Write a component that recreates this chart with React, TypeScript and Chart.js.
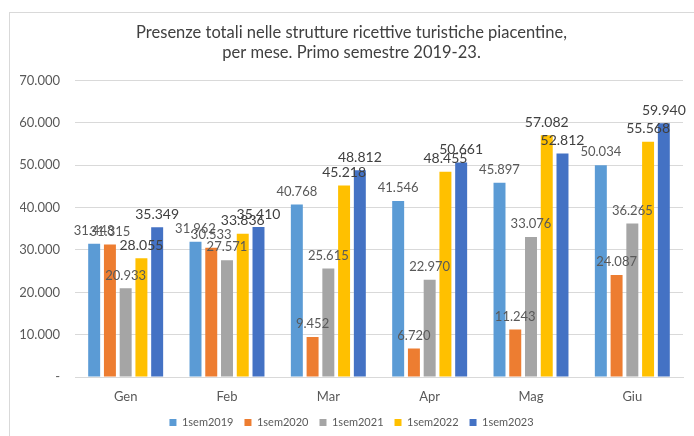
import React, { useEffect, useRef } from "react";
import { Chart, registerables } from "chart.js";

Chart.register(...registerables);

const categories = ["Gen", "Feb", "Mar", "Apr", "Mag", "Giu"];
const seriesNames = ["1sem2019", "1sem2020", "1sem2021", "1sem2022", "1sem2023"];
const s2019 = [31448, 31962, 40768, 41546, 45897, 50034];
const s2020 = [31315, 30533, 9452, 6720, 11243, 24087];
const s2021 = [20933, 27571, 25615, 22970, 33076, 36265];
const s2022 = [28055, 33836, 45218, 48455, 57082, 55568];
const s2023 = [35349, 35410, 48812, 50661, 52812, 59940];
const seriesColors = ["#5B9BD5", "#ED7D31", "#A5A5A5", "#FFC000", "#4472C4"];
const titleLines = [
  "Presenze totali nelle strutture ricettive turistiche piacentine,",
  "per mese. Primo semestre 2019-23.",
];

const FONT = "Lato, 'Open Sans', sans-serif";

function fmt(v: number): string {
  if (v === 0) return "-";
  return String(Math.round(v)).replace(/\B(?=(\d{3})+(?!\d))/g, ".");
}

const labelPlugin = {
  id: "barLabels",
  afterDatasetsDraw(chart: any) {
    const ctx = chart.ctx;
    ctx.save();
    ctx.textAlign = "center";
    ctx.textBaseline = "middle";
    chart.data.datasets.forEach((ds: any, di: number) => {
      const meta = chart.getDatasetMeta(di);
      const big = di >= 3;
      ctx.font = `${big ? 14 : 13}px ${FONT}`;
      ctx.fillStyle = big ? "#404040" : "#595959";
      meta.data.forEach((el: any, i: number) => {
        ctx.fillText(fmt(ds.data[i]), el.x, el.y - 13);
      });
    });
    ctx.restore();
  },
};

export default function App() {
  const ref = useRef<HTMLCanvasElement | null>(null);
  useEffect(() => {
    if (!ref.current) return;
    const all = [s2019, s2020, s2021, s2022, s2023];
    const chart = new Chart(ref.current, {
      type: "bar",
      data: {
        labels: categories,
        datasets: all.map((d, i) => ({
          label: seriesNames[i],
          data: d,
          backgroundColor: seriesColors[i],
          borderColor: seriesColors[i],
          borderWidth: 0,
          categoryPercentage: 0.777,
          barPercentage: 0.76,
        })),
      },
      options: {
        animation: false,
        responsive: false,
        layout: { padding: { left: 20, right: 11, top: 0, bottom: 0 } },
        plugins: {
          title: {
            display: true,
            text: titleLines,
            color: "#404040",
            font: { family: FONT, size: 16.5, weight: "normal", lineHeight: 1.2 },
            padding: { top: 23, bottom: 18 },
          },
          legend: {
            position: "bottom",
            labels: {
              boxWidth: 7,
              boxHeight: 7,
              padding: 11,
              color: "#595959",
              font: { family: FONT, size: 11 },
            },
          },
          tooltip: { enabled: false },
        },
        scales: {
          x: {
            grid: { display: false, drawTicks: false },
            border: { display: true, color: "#D9D9D9", width: 1 },
            ticks: {
              padding: 12,
              color: "#595959",
              font: { family: FONT, size: 13 },
            },
            afterFit(scale: any) {
              scale.height = 29;
            },
          },
          y: {
            min: 0,
            max: 70000,
            grid: { color: "#D9D9D9", lineWidth: 1, drawTicks: false },
            border: { display: false },
            ticks: {
              stepSize: 10000,
              padding: 15,
              color: "#595959",
              font: { family: FONT, size: 13 },
              callback: (v: any) => fmt(Number(v)),
            },
            afterFit(scale: any) {
              scale.width = 55;
            },
          },
        },
      },
      plugins: [labelPlugin],
    });
    return () => chart.destroy();
  }, []);

  return (
    <div
      style={{
        position: "fixed",
        left: 0,
        top: 0,
        width: 694,
        height: 436,
        overflow: "hidden",
        background: "#fff",
      }}
    >
      <div
        style={{
          position: "absolute",
          left: 9,
          top: 12,
          width: 800,
          height: 600,
          border: "1px solid #D9D9D9",
        }}
      />
      <canvas
        ref={ref}
        width={694}
        height={438}
        style={{ position: "absolute", left: 0, top: 0, width: 694, height: 438 }}
      />
    </div>
  );
}
